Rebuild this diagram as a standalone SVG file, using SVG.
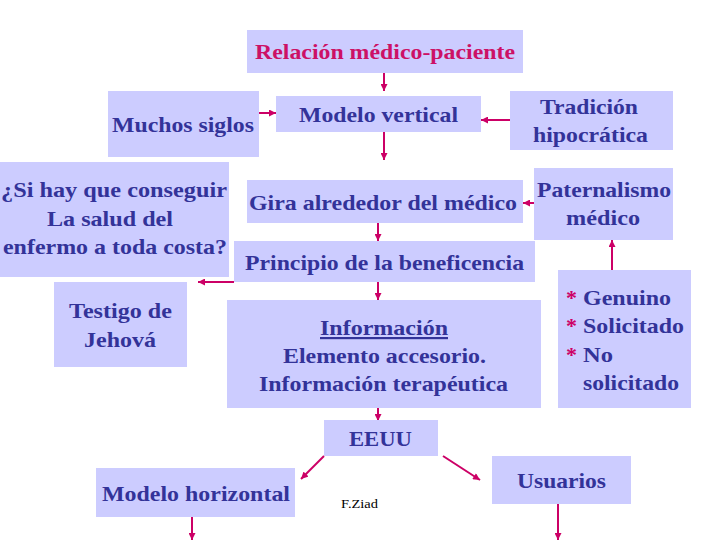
<svg xmlns="http://www.w3.org/2000/svg" width="720" height="540" viewBox="0 0 720 540">
<style>
.box{fill:#ccccff;}
.t{font-family:'Liberation Serif','Times New Roman',serif;font-size:22px;font-weight:bold;fill:#333399;text-anchor:middle;}
.l{text-anchor:start;}
.red{fill:#cc1166;}
.ast{fill:#cc0066;}
.c{stroke:#cc0066;stroke-width:2;fill:none;marker-end:url(#ah);}
.sig{font-family:'Liberation Serif','Times New Roman',serif;font-size:13px;fill:#000;}
</style>
<defs>
<marker id="ah" viewBox="0 0 10 10" refX="10" refY="5" markerWidth="8" markerHeight="7" markerUnits="userSpaceOnUse" orient="auto">
<path d="M0,0 L10,5 L0,10 z" fill="#cc0066"/>
</marker>
</defs>
<rect width="720" height="540" fill="#ffffff"/>
<g id="connectors">
<line class="c" x1="384" y1="73" x2="384" y2="91"/>
<line class="c" x1="258" y1="113" x2="276" y2="113"/>
<line class="c" x1="510" y1="120" x2="481" y2="120"/>
<line class="c" x1="384" y1="132" x2="384" y2="160"/>
<line class="c" x1="534" y1="203" x2="523" y2="203"/>
<line class="c" x1="378" y1="223" x2="378" y2="241"/>
<line class="c" x1="234" y1="282" x2="198" y2="282"/>
<line class="c" x1="378" y1="282" x2="378" y2="300"/>
<line class="c" x1="612" y1="270" x2="612" y2="240"/>
<line class="c" x1="378" y1="408" x2="378" y2="421"/>
<line class="c" x1="324" y1="456" x2="301" y2="479"/>
<line class="c" x1="443" y1="456" x2="480" y2="480"/>
<line class="c" x1="192" y1="517" x2="192" y2="540"/>
<line class="c" x1="558" y1="504" x2="558" y2="540"/>
</g>
<g id="relacion">
<rect class="box" x="247" y="30" width="276" height="43"/>
<text class="t red" x="385" y="59" textLength="260" lengthAdjust="spacingAndGlyphs">Relación médico-paciente</text>
</g>
<g id="muchos-siglos">
<rect class="box" x="108" y="91" width="151" height="66"/>
<text class="t" x="183" y="132" textLength="142" lengthAdjust="spacingAndGlyphs">Muchos siglos</text>
</g>
<g id="modelo-vertical">
<rect class="box" x="276" y="96" width="205" height="36"/>
<text class="t" x="378.5" y="122" textLength="159" lengthAdjust="spacingAndGlyphs">Modelo vertical</text>
</g>
<g id="tradicion">
<rect class="box" x="510" y="91" width="163" height="59"/>
<text class="t" x="589" y="114" textLength="98" lengthAdjust="spacingAndGlyphs">Tradición</text>
<text class="t" x="590.5" y="142" textLength="115" lengthAdjust="spacingAndGlyphs">hipocrática</text>
</g>
<g id="si-hay">
<rect class="box" x="0" y="162" width="229" height="115"/>
<text class="t" x="114" y="197" textLength="226" lengthAdjust="spacingAndGlyphs">¿Si hay que conseguir</text>
<text class="t" x="110" y="226" textLength="126" lengthAdjust="spacingAndGlyphs">La salud del</text>
<text class="t" x="115" y="254" textLength="224" lengthAdjust="spacingAndGlyphs">enfermo a toda costa?</text>
</g>
<g id="gira">
<rect class="box" x="247" y="180" width="276" height="43"/>
<text class="t" x="383" y="210" textLength="268" lengthAdjust="spacingAndGlyphs">Gira alrededor del médico</text>
</g>
<g id="paternalismo">
<rect class="box" x="534" y="168" width="139" height="72"/>
<text class="t" x="604" y="197" textLength="134" lengthAdjust="spacingAndGlyphs">Paternalismo</text>
<text class="t" x="603" y="225" textLength="74" lengthAdjust="spacingAndGlyphs">médico</text>
</g>
<g id="principio">
<rect class="box" x="234" y="241" width="301" height="41"/>
<text class="t" x="384.5" y="270" textLength="279" lengthAdjust="spacingAndGlyphs">Principio de la beneficencia</text>
</g>
<g id="testigo">
<rect class="box" x="54" y="282" width="133" height="85"/>
<text class="t" x="120.5" y="318" textLength="103" lengthAdjust="spacingAndGlyphs">Testigo de</text>
<text class="t" x="120" y="347" textLength="72" lengthAdjust="spacingAndGlyphs">Jehová</text>
</g>
<g id="informacion">
<rect class="box" x="227" y="300" width="314" height="108"/>
<text class="t" x="384" y="335" text-decoration="underline" textLength="128" lengthAdjust="spacingAndGlyphs">Información</text>
<text class="t" x="384.5" y="363" textLength="203" lengthAdjust="spacingAndGlyphs">Elemento accesorio.</text>
<text class="t" x="383.5" y="391" textLength="249" lengthAdjust="spacingAndGlyphs">Información terapéutica</text>
</g>
<g id="genuino">
<rect class="box" x="558" y="270" width="133" height="138"/>
<text class="t l ast" x="566" y="305">*</text>
<text class="t l" x="583" y="305" textLength="88" lengthAdjust="spacingAndGlyphs">Genuino</text>
<text class="t l ast" x="566" y="333">*</text>
<text class="t l" x="583" y="333" textLength="101" lengthAdjust="spacingAndGlyphs">Solicitado</text>
<text class="t l ast" x="566" y="362">*</text>
<text class="t l" x="583" y="362" textLength="30" lengthAdjust="spacingAndGlyphs">No</text>
<text class="t l" x="583" y="390" textLength="96" lengthAdjust="spacingAndGlyphs">solicitado</text>
</g>
<g id="eeuu">
<rect class="box" x="324" y="420" width="114" height="36"/>
<text class="t" x="380.5" y="446" textLength="63" lengthAdjust="spacingAndGlyphs">EEUU</text>
</g>
<g id="modelo-horizontal">
<rect class="box" x="96" y="468" width="199" height="49"/>
<text class="t" x="196" y="501" textLength="188" lengthAdjust="spacingAndGlyphs">Modelo horizontal</text>
</g>
<g id="usuarios">
<rect class="box" x="492" y="456" width="139" height="48"/>
<text class="t" x="561.5" y="488" textLength="89" lengthAdjust="spacingAndGlyphs">Usuarios</text>
</g>
<text class="sig" x="341" y="508" textLength="37" lengthAdjust="spacingAndGlyphs">F.Ziad</text>
</svg>
